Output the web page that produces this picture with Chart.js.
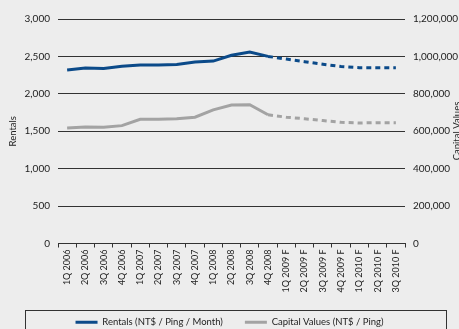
<!DOCTYPE html>
<html lang="en">
<head>
  <meta charset="UTF-8" />
  <title>Rentals and Capital Values</title>
  <script src="https://cdn.jsdelivr.net/npm/chart.js"></script>
  <style>
    html, body {
      margin: 0;
      padding: 0;
      background: #ededed;
    }
    #wrap {
      width: 459px;
      height: 329px;
      overflow: hidden;
    }
  </style>
</head>
<body>
  <div id="wrap">
    <canvas id="chart" width="459" height="329"></canvas>
  </div>

  <script>
    const quarters = [
      '1Q 2006', '2Q 2006', '3Q 2006', '4Q 2006',
      '1Q 2007', '2Q 2007', '3Q 2007', '4Q 2007',
      '1Q 2008', '2Q 2008', '3Q 2008', '4Q 2008',
      '1Q 2009 F', '2Q 2009 F', '3Q 2009 F', '4Q 2009 F',
      '1Q 2010 F', '2Q 2010 F', '3Q 2010 F'
    ];
    // NT$ / Ping / Month (left axis)
    const rentals = [
      2320, 2345, 2340, 2370, 2385, 2385, 2393, 2425, 2438, 2515,
      2560, 2500, 2465, 2430, 2395, 2365, 2350, 2350, 2350
    ];
    // NT$ / Ping (right axis)
    const capitalValues = [
      618000, 623000, 621000, 630000, 664000, 664000, 667000, 675000, 714000, 740000,
      742000, 688000, 675000, 667000, 657000, 648000, 644000, 646000, 646000
    ];
    const forecastFrom = 11; // dashes start after 4Q 2008
    const rentalTicks = [0, 500, 1000, 1500, 2000, 2500, 3000];
    const capitalTicks = [0, 200000, 400000, 600000, 800000, 1000000, 1200000];

    const FONT = 'Lato, "Open Sans", sans-serif';
    const dashAfter = ctx => ctx.p0DataIndex >= forecastFrom ? [5, 4] : undefined;

    // border around legend + the cut-off right axis title
    const extras = {
      id: 'extras',
      afterDraw(chart) {
        const c = chart.ctx;
        c.save();
        c.strokeStyle = '#333';
        c.lineWidth = 1;
        c.strokeRect(25.5, 310.5, 421, 40);

        c.translate(457, 131);
        c.rotate(-Math.PI / 2);
        c.fillStyle = '#222';
        c.font = '9.5px ' + FONT;
        c.textAlign = 'center';
        c.textBaseline = 'middle';
        c.fillText('Capital Values', 0, 0);
        c.restore();
      }
    };

    new Chart(document.getElementById('chart'), {
      type: 'line',
      data: {
        labels: quarters,
        datasets: [
          {
            label: 'Rentals (NT$ / Ping / Month)',
            data: rentals,
            yAxisID: 'y',
            borderColor: '#0b4a89',
            backgroundColor: '#0b4a89',
            borderWidth: 3,
            pointRadius: 0,
            tension: 0,
            segment: { borderDash: dashAfter }
          },
          {
            label: 'Capital Values (NT$ / Ping)',
            data: capitalValues,
            yAxisID: 'y2',
            borderColor: '#a3a3a3',
            backgroundColor: '#a3a3a3',
            borderWidth: 3,
            pointRadius: 0,
            tension: 0,
            segment: { borderDash: dashAfter }
          }
        ]
      },
      options: {
        responsive: false,
        animation: false,
        layout: { padding: { top: 19, bottom: -8, left: 0, right: 0 } },
        plugins: {
          tooltip: { enabled: false },
          legend: {
            position: 'bottom',
            labels: {
              color: '#222',
              font: { family: FONT, size: 9.5 },
              boxWidth: 22,
              boxHeight: 3,
              padding: 22,
              generateLabels(chart) {
                return chart.data.datasets.map((ds, i) => ({
                  text: ds.label,
                  fillStyle: ds.borderColor,
                  strokeStyle: ds.borderColor,
                  lineWidth: 0,
                  fontColor: '#222',
                  datasetIndex: i
                }));
              }
            }
          }
        },
        scales: {
          x: {
            offset: true,
            grid: {
              offset: true,
              drawOnChartArea: false,
              drawTicks: true,
              tickLength: 4,
              color: '#333'
            },
            border: { color: '#333' },
            ticks: {
              color: '#222',
              font: { family: FONT, size: 9 },
              maxRotation: 90,
              minRotation: 90,
              autoSkip: false,
              padding: 2
            },
            afterFit(scale) { scale.height = 52; }
          },
          y: {
            position: 'left',
            min: 0,
            max: 3000,
            afterBuildTicks(scale) { scale.ticks = rentalTicks.map(v => ({ value: v })); },
            grid: { color: '#333', drawTicks: false },
            border: { display: false },
            ticks: {
              color: '#222',
              font: { family: FONT, size: 10 },
              padding: 8,
              callback: v => v.toLocaleString('en-US')
            },
            title: {
              display: true,
              text: 'Rentals',
              color: '#222',
              font: { family: FONT, size: 9.5 },
              padding: { top: 7, bottom: 0 }
            },
            afterFit(scale) { scale.width = 58; }
          },
          y2: {
            position: 'right',
            min: 0,
            max: 1200000,
            afterBuildTicks(scale) { scale.ticks = capitalTicks.map(v => ({ value: v })); },
            grid: { drawOnChartArea: false, drawTicks: false },
            border: { display: false },
            ticks: {
              color: '#222',
              font: { family: FONT, size: 10 },
              padding: 8,
              callback: v => v.toLocaleString('en-US')
            },
            afterFit(scale) { scale.width = 54; }
          }
        }
      },
      plugins: [extras]
    });
  </script>
</body>
</html>
